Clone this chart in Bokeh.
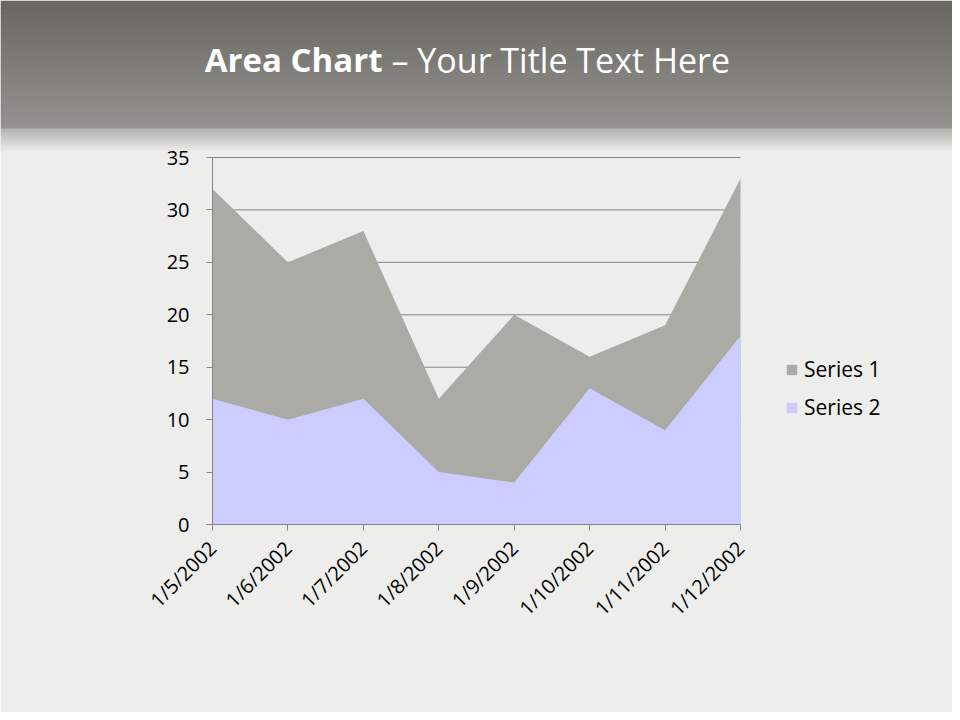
from bokeh.plotting import figure
from bokeh.models import Label, Legend, LegendItem, FixedTicker, LinearAxis
from bokeh.embed import file_html
from bokeh.resources import INLINE
import math

# ---- data ----
categories = ["1/5/2002", "1/6/2002", "1/7/2002", "1/8/2002",
              "1/9/2002", "1/10/2002", "1/11/2002", "1/12/2002"]
series1 = [32, 25, 28, 12, 20, 16, 19, 33]
series2 = [12, 10, 12, 5, 4, 13, 9, 18]
y_ticks = [0, 5, 10, 15, 20, 25, 30, 35]
series_names = ["Series 1", "Series 2"]
series_colors = ["#ABABA6", "#CCCCFF"]

# ---- layout (canvas pixels) ----
W, H = 952, 712
PX_LEFT, PX_RIGHT = 212, 740      # plot area left / right
PX_TOP, PX_BOTTOM = 157, 524      # plot area top / bottom
Y_MAX = y_ticks[-1]
N = len(categories)

sx = (PX_RIGHT - PX_LEFT) / (N - 1)
sy = (PX_BOTTOM - PX_TOP) / Y_MAX
x_rng = (-PX_LEFT / sx, (W - PX_LEFT) / sx)
y_rng = (-(H - PX_BOTTOM) / sy, Y_MAX + PX_TOP / sy)


def dy(py):  # canvas pixel row -> data y (for background decoration only)
    return (PX_BOTTOM - py) / sy


xs = list(range(N))

p = figure(width=W, height=H, output_backend="svg", toolbar_location=None,
           x_range=x_rng, y_range=y_rng,
           x_axis_location=None, y_axis_location=None,
           min_border=0)
p.border_fill_color = "#EDEDEC"
p.background_fill_color = "#EDEDEC"
p.outline_line_color = None
p.grid.visible = False


def lerp(c1, c2, t):
    a = [int(c1[i:i + 2], 16) for i in (1, 3, 5)]
    b = [int(c2[i:i + 2], 16) for i in (1, 3, 5)]
    return "#%02x%02x%02x" % tuple(int(round(a[k] + (b[k] - a[k]) * t)) for k in range(3))


# header gradient
tops, bots, cols = [], [], []
n = 32
hh = 128
for i in range(n):
    tops.append(dy(i * hh / n))
    bots.append(dy((i + 1) * hh / n + 0.6))
    cols.append(lerp("#686762", "#93928E", i / (n - 1)))
m = 12
for i in range(m):
    tops.append(dy(hh + i * 1.8))
    bots.append(dy(hh + (i + 1) * 1.8 + 0.6))
    cols.append(lerp("#B4B4B1", "#E6E6E4", i / (m - 1)))
p.quad(left=x_rng[0], right=x_rng[1], top=tops, bottom=bots,
       fill_color=cols, line_color=None)

# horizontal gridlines (behind the areas)
grid_y = y_ticks[1:]
p.segment(x0=0, x1=N - 1, y0=grid_y, y1=grid_y, line_color="#868686", line_width=1)

# areas (overlapping, series 1 behind series 2)
r1 = p.varea(x=xs, y1=0, y2=series1, fill_color=series_colors[0], fill_alpha=1)
r2 = p.varea(x=xs, y1=0, y2=series2, fill_color=series_colors[1], fill_alpha=1)

# axes drawn at data 0
yax = LinearAxis(fixed_location=0, bounds=(0, Y_MAX), ticker=FixedTicker(ticks=y_ticks))
xax = LinearAxis(fixed_location=0, bounds=(0, N - 1), ticker=FixedTicker(ticks=xs))
xax.major_label_overrides = {i: c for i, c in enumerate(categories)}
xax.major_label_orientation = math.pi / 4
for ax in (xax, yax):
    ax.axis_line_color = "#868686"
    ax.major_tick_line_color = "#868686"
    ax.major_tick_in = 0
    ax.major_tick_out = 6
    ax.minor_tick_line_color = None
    ax.major_label_text_font = "Open Sans"
    ax.major_label_text_color = "#000000"
    ax.major_label_text_font_size = "20px"
yax.major_label_standoff = 17
xax.major_label_standoff = 14
p.add_layout(yax, "left")
p.add_layout(xax, "below")

# legend (bottom-left corner given from the canvas bottom-left)
legend = Legend(items=[LegendItem(label=series_names[0], renderers=[r1]),
                       LegendItem(label=series_names[1], renderers=[r2])],
                location=(785, H - 421), orientation="vertical",
                background_fill_alpha=0, border_line_color=None,
                padding=0, margin=0, spacing=10,
                glyph_width=13, glyph_height=13, label_height=13,
                label_standoff=6,
                label_text_font="Open Sans", label_text_font_size="21px",
                label_text_color="#000000")
p.add_layout(legend, "center")

# title
base_y = H - 59
p.add_layout(Label(x=382, y=base_y, x_units="screen", y_units="screen",
                   text="Area Chart", text_align="right", text_baseline="alphabetic",
                   text_font="Open Sans", text_font_style="bold",
                   text_font_size="33px", text_color="#FFFFFF"))
p.add_layout(Label(x=391, y=base_y, x_units="screen", y_units="screen",
                   text="\u2013 Your Title Text Here", text_align="left",
                   text_baseline="alphabetic",
                   text_font="Open Sans", text_font_size="34px", text_color="#FFFFFF"))

open("out.html", "w").write(file_html(p, INLINE))
